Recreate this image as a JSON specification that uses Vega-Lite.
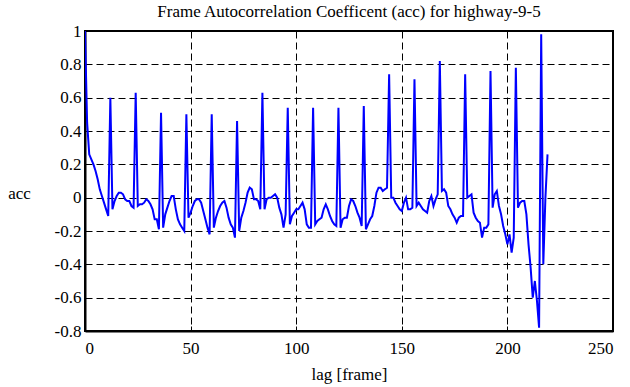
{
  "$schema": "https://vega.github.io/schema/vega-lite/v6.json",
  "autosize": "none",
  "width": 528,
  "height": 300,
  "padding": {"left": 85, "top": 31, "right": 17, "bottom": 56},
  "background": "white",
  "title": {"text": "Frame Autocorrelation Coefficent (acc) for highway-9-5", "font": "Liberation Serif", "fontSize": 17, "fontWeight": "normal", "color": "black", "offset": 1, "anchor": "middle"},
  "config": {
    "font": "Liberation Serif",
    "view": {"stroke": "black", "strokeWidth": 2},
    "axis": {"labelFont": "Liberation Serif", "titleFont": "Liberation Serif", "labelFontSize": 17, "titleFontSize": 17, "titleFontWeight": "normal", "labelColor": "black", "titleColor": "black", "domainColor": "black", "domainWidth": 2, "tickColor": "black", "tickSize": -5, "tickWidth": 1, "grid": true, "gridColor": "black", "gridDash": [7, 4], "gridWidth": 1, "gridOpacity": 1}
  },
  "datasets": {
    "acc": [
      {"lag":0,"acc":1.0},{"lag":1,"acc":0.45},{"lag":2,"acc":0.26},{"lag":3,"acc":0.23},{"lag":4,"acc":0.2},{"lag":5,"acc":0.16},{"lag":6,"acc":0.11},{"lag":7,"acc":0.05},{"lag":8,"acc":0.01},{"lag":9,"acc":-0.03},
      {"lag":10,"acc":-0.07},{"lag":11,"acc":-0.11},{"lag":12,"acc":0.6},{"lag":13,"acc":-0.07},{"lag":14,"acc":-0.02},{"lag":15,"acc":0.01},{"lag":16,"acc":0.03},{"lag":17,"acc":0.03},{"lag":18,"acc":0.02},{"lag":19,"acc":-0.01},
      {"lag":20,"acc":-0.02},{"lag":21,"acc":-0.02},{"lag":22,"acc":-0.05},{"lag":23,"acc":-0.06},{"lag":24,"acc":0.63},{"lag":25,"acc":-0.05},{"lag":26,"acc":-0.04},{"lag":27,"acc":-0.04},{"lag":28,"acc":-0.03},{"lag":29,"acc":-0.01},
      {"lag":30,"acc":-0.02},{"lag":31,"acc":-0.04},{"lag":32,"acc":-0.07},{"lag":33,"acc":-0.13},{"lag":34,"acc":-0.13},{"lag":35,"acc":-0.19},{"lag":36,"acc":0.51},{"lag":37,"acc":-0.18},{"lag":38,"acc":-0.1},{"lag":39,"acc":-0.06},
      {"lag":40,"acc":-0.02},{"lag":41,"acc":0.01},{"lag":42,"acc":0.01},{"lag":43,"acc":-0.07},{"lag":44,"acc":-0.13},{"lag":45,"acc":-0.16},{"lag":46,"acc":-0.18},{"lag":47,"acc":-0.2},{"lag":48,"acc":0.5},{"lag":49,"acc":-0.12},
      {"lag":50,"acc":-0.09},{"lag":51,"acc":-0.05},{"lag":52,"acc":-0.02},{"lag":53,"acc":-0.01},{"lag":54,"acc":-0.01},{"lag":55,"acc":-0.03},{"lag":56,"acc":-0.08},{"lag":57,"acc":-0.13},{"lag":58,"acc":-0.18},{"lag":59,"acc":-0.22},
      {"lag":60,"acc":0.5},{"lag":61,"acc":-0.18},{"lag":62,"acc":-0.12},{"lag":63,"acc":-0.08},{"lag":64,"acc":-0.05},{"lag":65,"acc":-0.03},{"lag":66,"acc":-0.02},{"lag":67,"acc":-0.06},{"lag":68,"acc":-0.12},{"lag":69,"acc":-0.16},
      {"lag":70,"acc":-0.18},{"lag":71,"acc":-0.24},{"lag":72,"acc":0.46},{"lag":73,"acc":-0.2},{"lag":74,"acc":-0.12},{"lag":75,"acc":-0.08},{"lag":76,"acc":-0.03},{"lag":77,"acc":0.03},{"lag":78,"acc":0.06},{"lag":79,"acc":0.05},
      {"lag":80,"acc":-0.01},{"lag":81,"acc":-0.01},{"lag":82,"acc":-0.02},{"lag":83,"acc":-0.07},{"lag":84,"acc":0.63},{"lag":85,"acc":-0.07},{"lag":86,"acc":-0.01},{"lag":87,"acc":0.0},{"lag":88,"acc":0.0},{"lag":89,"acc":0.01},
      {"lag":90,"acc":0.02},{"lag":91,"acc":0.0},{"lag":92,"acc":-0.06},{"lag":93,"acc":-0.1},{"lag":94,"acc":-0.18},{"lag":95,"acc":-0.1},{"lag":96,"acc":0.54},{"lag":97,"acc":-0.16},{"lag":98,"acc":-0.11},{"lag":99,"acc":-0.09},
      {"lag":100,"acc":-0.07},{"lag":101,"acc":-0.07},{"lag":102,"acc":-0.05},{"lag":103,"acc":-0.03},{"lag":104,"acc":-0.07},{"lag":105,"acc":-0.16},{"lag":106,"acc":-0.18},{"lag":107,"acc":-0.18},{"lag":108,"acc":0.54},{"lag":109,"acc":-0.16},
      {"lag":110,"acc":-0.14},{"lag":111,"acc":-0.13},{"lag":112,"acc":-0.12},{"lag":113,"acc":-0.07},{"lag":114,"acc":-0.04},{"lag":115,"acc":-0.07},{"lag":116,"acc":-0.11},{"lag":117,"acc":-0.14},{"lag":118,"acc":-0.16},{"lag":119,"acc":-0.17},
      {"lag":120,"acc":0.54},{"lag":121,"acc":-0.18},{"lag":122,"acc":-0.13},{"lag":123,"acc":-0.12},{"lag":124,"acc":-0.12},{"lag":125,"acc":-0.05},{"lag":126,"acc":-0.01},{"lag":127,"acc":-0.02},{"lag":128,"acc":-0.05},{"lag":129,"acc":-0.09},
      {"lag":130,"acc":-0.12},{"lag":131,"acc":-0.17},{"lag":132,"acc":0.55},{"lag":133,"acc":-0.19},{"lag":134,"acc":-0.16},{"lag":135,"acc":-0.13},{"lag":136,"acc":-0.11},{"lag":137,"acc":-0.05},{"lag":138,"acc":0.03},{"lag":139,"acc":0.06},
      {"lag":140,"acc":0.06},{"lag":141,"acc":0.04},{"lag":142,"acc":0.05},{"lag":143,"acc":0.06},{"lag":144,"acc":0.74},{"lag":145,"acc":0.0},{"lag":146,"acc":0.0},{"lag":147,"acc":-0.03},{"lag":148,"acc":-0.05},{"lag":149,"acc":-0.07},
      {"lag":150,"acc":-0.08},{"lag":151,"acc":-0.03},{"lag":152,"acc":0.0},{"lag":153,"acc":-0.07},{"lag":154,"acc":-0.07},{"lag":155,"acc":-0.06},{"lag":156,"acc":0.71},{"lag":157,"acc":-0.05},{"lag":158,"acc":-0.03},{"lag":159,"acc":-0.05},
      {"lag":160,"acc":-0.07},{"lag":161,"acc":-0.08},{"lag":162,"acc":-0.09},{"lag":163,"acc":-0.02},{"lag":164,"acc":0.01},{"lag":165,"acc":-0.05},{"lag":166,"acc":-0.01},{"lag":167,"acc":0.02},{"lag":168,"acc":0.82},{"lag":169,"acc":0.04},
      {"lag":170,"acc":0.05},{"lag":171,"acc":0.03},{"lag":172,"acc":-0.05},{"lag":173,"acc":-0.07},{"lag":174,"acc":-0.1},{"lag":175,"acc":-0.12},{"lag":176,"acc":-0.15},{"lag":177,"acc":-0.12},{"lag":178,"acc":-0.11},{"lag":179,"acc":-0.11},
      {"lag":180,"acc":0.74},{"lag":181,"acc":0.0},{"lag":182,"acc":0.01},{"lag":183,"acc":0.02},{"lag":184,"acc":-0.09},{"lag":185,"acc":-0.12},{"lag":186,"acc":-0.14},{"lag":187,"acc":-0.15},{"lag":188,"acc":-0.24},{"lag":189,"acc":-0.18},
      {"lag":190,"acc":-0.18},{"lag":191,"acc":-0.16},{"lag":192,"acc":0.76},{"lag":193,"acc":-0.06},{"lag":194,"acc":0.02},{"lag":195,"acc":0.04},{"lag":196,"acc":-0.05},{"lag":197,"acc":-0.1},{"lag":198,"acc":-0.17},{"lag":199,"acc":-0.22},
      {"lag":200,"acc":-0.28},{"lag":201,"acc":-0.22},{"lag":202,"acc":-0.33},{"lag":203,"acc":-0.24},{"lag":204,"acc":0.78},{"lag":205,"acc":-0.06},{"lag":206,"acc":-0.03},{"lag":207,"acc":-0.02},{"lag":208,"acc":-0.02},{"lag":209,"acc":-0.1},
      {"lag":210,"acc":-0.28},{"lag":211,"acc":-0.42},{"lag":212,"acc":-0.6},{"lag":213,"acc":-0.5},{"lag":214,"acc":-0.62},{"lag":215,"acc":-0.78},{"lag":216,"acc":0.98},{"lag":217,"acc":-0.4},{"lag":218,"acc":0.0},{"lag":219,"acc":0.26}
    ]
  },
  "data": {"name": "acc"},
  "mark": {"type": "line", "color": "#0000ff", "strokeWidth": 2, "clip": true},
  "encoding": {
    "x": {"field": "lag", "type": "quantitative", "scale": {"domain": [0, 250], "nice": false}, "axis": {"title": "lag [frame]", "values": [0, 50, 100, 150, 200, 250], "labelFont": "Liberation Serif", "labelFontSize": 17, "labelPadding": 14, "titlePadding": 10}},
    "y": {"field": "acc", "type": "quantitative", "scale": {"domain": [-0.8, 1], "nice": false}, "axis": {"title": "acc", "titleAngle": 0, "titleAlign": "center", "titleBaseline": "middle", "titleX": -66, "titleY": 162, "values": [-0.8, -0.6, -0.4, -0.2, 0, 0.2, 0.4, 0.6, 0.8, 1], "labelExpr": "'' + datum.value", "labelFont": "Liberation Serif", "labelFontSize": 17, "labelPadding": 9}}
  }
}
